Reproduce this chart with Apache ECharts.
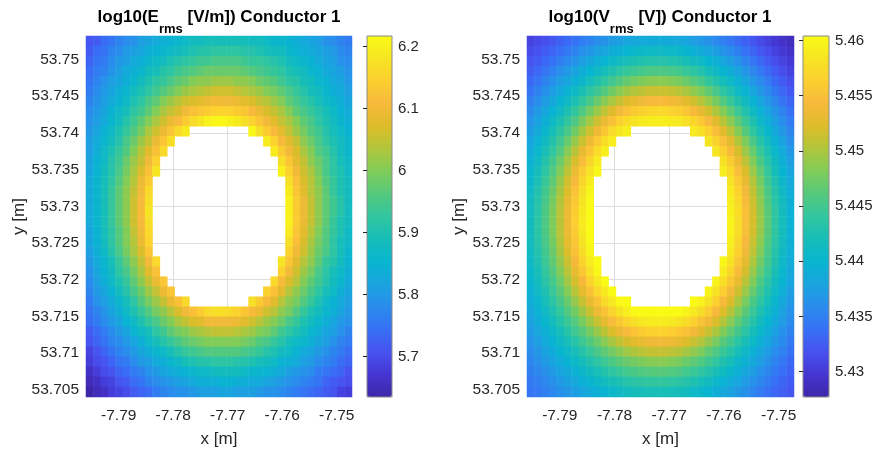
<!DOCTYPE html>
<html>
<head>
<meta charset="utf-8" />
<title>log10 Erms / Vrms - Conductor 1</title>
<script type="text/javascript" src="https://cdn.jsdelivr.net/npm/echarts@6/dist/echarts.min.js"></script>
<style type="text/css">
	html, body { margin: 0; padding: 0; background: #fff; }
	#main { width: 873px; height: 450px; }
</style>
</head>
<body>
<div id="main"></div>
<script type="text/javascript">
var _ = null; // inside the conductor zone, no value (left white)

// map extent [m]
var xExtent = [-7.7960, -7.7472];
var yExtent = [53.7040, 53.7532];

// cell centres of the sampled grid (x left->right, y bottom->top)
var xCells = [-7.7953, -7.7940, -7.7926, -7.7913, -7.7899, -7.7885, -7.7872, -7.7858, -7.7845, -7.7831, -7.7818, -7.7804,
	-7.7791, -7.7777, -7.7763, -7.7750, -7.7736, -7.7723, -7.7709, -7.7696, -7.7682, -7.7669, -7.7655, -7.7641,
	-7.7628, -7.7614, -7.7601, -7.7587, -7.7574, -7.7560, -7.7547, -7.7533, -7.7519, -7.7506, -7.7492, -7.7479];
var yCells = [53.7047, 53.7061, 53.7074, 53.7088, 53.7102, 53.7115, 53.7129, 53.7143, 53.7156, 53.7170, 53.7184, 53.7197,
	53.7211, 53.7225, 53.7238, 53.7252, 53.7266, 53.7279, 53.7293, 53.7307, 53.7320, 53.7334, 53.7348, 53.7361,
	53.7375, 53.7389, 53.7402, 53.7416, 53.7430, 53.7443, 53.7457, 53.7471, 53.7484, 53.7498, 53.7512, 53.7525];

// tick labels
var xTicks = [-7.79, -7.78, -7.77, -7.76, -7.75];
var yTicks = [53.705, 53.71, 53.715, 53.72, 53.725, 53.73, 53.735, 53.74, 53.745, 53.75];
var eTicks = [5.7, 5.8, 5.9, 6, 6.1, 6.2];
var vTicks = [5.43, 5.435, 5.44, 5.445, 5.45, 5.455, 5.46];

// colour limits of the two colorbars
var eRange = [5.635, 6.217];
var vRange = [5.4277, 5.4604];

// log10(Erms [V/m]), rows from top (north) to bottom
var eRows = [
	[5.71,5.72,5.74,5.75,5.77,5.78,5.79,5.81,5.82,5.83,5.84,5.85,5.86,5.87,5.88,5.88,5.89,5.89,5.89,5.89,5.89,5.89,5.88,5.88,5.87,5.86,5.86,5.85,5.84,5.83,5.82,5.81,5.79,5.78,5.77,5.76],
	[5.72,5.74,5.75,5.77,5.78,5.80,5.81,5.82,5.84,5.85,5.86,5.87,5.88,5.89,5.90,5.91,5.91,5.92,5.92,5.92,5.92,5.91,5.91,5.90,5.89,5.88,5.88,5.86,5.85,5.84,5.83,5.82,5.81,5.80,5.78,5.77],
	[5.73,5.75,5.76,5.78,5.80,5.81,5.83,5.84,5.86,5.87,5.88,5.90,5.91,5.92,5.93,5.94,5.94,5.95,5.95,5.95,5.95,5.94,5.93,5.93,5.92,5.91,5.90,5.88,5.87,5.86,5.85,5.83,5.82,5.81,5.79,5.78],
	[5.74,5.76,5.77,5.79,5.81,5.83,5.84,5.86,5.88,5.89,5.91,5.92,5.94,5.95,5.96,5.97,5.98,5.98,5.98,5.98,5.98,5.97,5.96,5.95,5.94,5.93,5.92,5.90,5.89,5.88,5.86,5.85,5.83,5.82,5.81,5.79],
	[5.75,5.77,5.79,5.81,5.82,5.84,5.86,5.88,5.90,5.92,5.93,5.95,5.97,5.98,6.00,6.01,6.01,6.02,6.02,6.02,6.01,6.01,6.00,5.98,5.97,5.96,5.94,5.92,5.91,5.89,5.88,5.86,5.85,5.83,5.82,5.80],
	[5.76,5.78,5.80,5.82,5.84,5.86,5.88,5.90,5.92,5.94,5.96,5.98,6.00,6.02,6.03,6.04,6.05,6.06,6.06,6.06,6.05,6.04,6.03,6.02,6.00,5.99,5.97,5.95,5.93,5.91,5.89,5.88,5.86,5.84,5.83,5.81],
	[5.77,5.79,5.81,5.83,5.85,5.87,5.90,5.92,5.95,5.97,6.00,6.02,6.04,6.06,6.07,6.08,6.09,6.10,6.10,6.10,6.09,6.08,6.07,6.05,6.04,6.02,6.00,5.97,5.95,5.93,5.91,5.89,5.87,5.86,5.84,5.82],
	[5.78,5.80,5.82,5.85,5.87,5.89,5.92,5.94,5.97,6.00,6.03,6.05,6.07,6.10,6.12,6.13,6.14,6.15,6.15,6.15,6.14,6.13,6.11,6.09,6.07,6.05,6.03,6.00,5.97,5.95,5.93,5.91,5.89,5.87,5.85,5.83],
	[5.79,5.81,5.83,5.86,5.88,5.91,5.94,5.97,6.00,6.03,6.06,6.09,6.11,6.14,6.16,6.18,6.20,6.21,6.21,6.20,6.19,6.17,6.15,6.13,6.10,6.08,6.05,6.03,6.00,5.97,5.95,5.92,5.90,5.88,5.86,5.84],
	[5.80,5.82,5.85,5.87,5.90,5.93,5.96,5.99,6.03,6.06,6.09,6.13,6.16,6.19,_,_,_,_,_,_,_,_,6.21,6.17,6.14,6.11,6.08,6.05,6.02,5.99,5.96,5.94,5.91,5.89,5.87,5.85],
	[5.81,5.83,5.86,5.88,5.91,5.95,5.98,6.02,6.05,6.09,6.13,6.17,_,_,_,_,_,_,_,_,_,_,_,_,6.19,6.15,6.11,6.08,6.05,6.01,5.98,5.95,5.92,5.90,5.88,5.86],
	[5.81,5.84,5.87,5.90,5.93,5.96,6.00,6.04,6.08,6.12,6.16,_,_,_,_,_,_,_,_,_,_,_,_,_,_,6.19,6.14,6.10,6.07,6.03,6.00,5.96,5.94,5.91,5.88,5.86],
	[5.82,5.85,5.87,5.91,5.94,5.98,6.02,6.05,6.10,6.15,_,_,_,_,_,_,_,_,_,_,_,_,_,_,_,_,6.17,6.13,6.08,6.05,6.01,5.98,5.95,5.92,5.89,5.87],
	[5.82,5.85,5.88,5.91,5.95,5.99,6.03,6.07,6.12,6.18,_,_,_,_,_,_,_,_,_,_,_,_,_,_,_,_,6.20,6.15,6.10,6.06,6.03,5.99,5.95,5.92,5.90,5.87],
	[5.83,5.86,5.89,5.92,5.96,6.00,6.04,6.09,6.14,_,_,_,_,_,_,_,_,_,_,_,_,_,_,_,_,_,_,6.17,6.12,6.07,6.04,6.00,5.96,5.93,5.90,5.88],
	[5.83,5.86,5.89,5.93,5.97,6.01,6.05,6.10,6.16,_,_,_,_,_,_,_,_,_,_,_,_,_,_,_,_,_,_,6.19,6.13,6.08,6.04,6.01,5.97,5.93,5.90,5.88],
	[5.83,5.86,5.89,5.93,5.97,6.01,6.06,6.11,6.17,_,_,_,_,_,_,_,_,_,_,_,_,_,_,_,_,_,_,6.20,6.14,6.09,6.05,6.01,5.97,5.94,5.91,5.88],
	[5.83,5.86,5.89,5.93,5.97,6.01,6.06,6.11,6.18,_,_,_,_,_,_,_,_,_,_,_,_,_,_,_,_,_,_,6.20,6.14,6.09,6.05,6.01,5.97,5.94,5.91,5.88],
	[5.83,5.86,5.89,5.93,5.97,6.01,6.06,6.11,6.17,_,_,_,_,_,_,_,_,_,_,_,_,_,_,_,_,_,_,6.20,6.14,6.09,6.05,6.01,5.97,5.93,5.90,5.88],
	[5.82,5.85,5.89,5.92,5.96,6.00,6.05,6.10,6.16,_,_,_,_,_,_,_,_,_,_,_,_,_,_,_,_,_,_,6.19,6.13,6.08,6.04,6.00,5.96,5.93,5.90,5.87],
	[5.82,5.85,5.88,5.92,5.96,6.00,6.04,6.09,6.15,_,_,_,_,_,_,_,_,_,_,_,_,_,_,_,_,_,_,6.17,6.12,6.07,6.03,5.99,5.96,5.92,5.89,5.87],
	[5.81,5.84,5.87,5.91,5.95,5.99,6.03,6.07,6.13,_,_,_,_,_,_,_,_,_,_,_,_,_,_,_,_,_,_,6.15,6.10,6.06,6.02,5.98,5.95,5.92,5.89,5.86],
	[5.80,5.83,5.86,5.89,5.93,5.97,6.01,6.05,6.10,6.16,_,_,_,_,_,_,_,_,_,_,_,_,_,_,_,_,6.18,6.13,6.08,6.04,6.01,5.97,5.93,5.91,5.88,5.85],
	[5.79,5.82,5.85,5.88,5.92,5.95,5.99,6.03,6.08,6.12,_,_,_,_,_,_,_,_,_,_,_,_,_,_,_,_,6.15,6.10,6.06,6.02,5.99,5.95,5.92,5.89,5.87,5.84],
	[5.78,5.81,5.84,5.87,5.90,5.93,5.97,6.01,6.05,6.09,6.13,_,_,_,_,_,_,_,_,_,_,_,_,_,_,6.16,6.11,6.07,6.04,6.00,5.97,5.94,5.91,5.88,5.86,5.83],
	[5.77,5.80,5.82,5.85,5.88,5.91,5.95,5.98,6.02,6.05,6.09,6.13,_,_,_,_,_,_,_,_,_,_,_,_,6.15,6.12,6.08,6.04,6.01,5.98,5.95,5.92,5.89,5.87,5.84,5.82],
	[5.76,5.79,5.81,5.83,5.86,5.89,5.92,5.96,5.99,6.02,6.05,6.09,6.12,6.16,_,_,_,_,_,_,_,_,6.17,6.14,6.11,6.08,6.04,6.01,5.99,5.96,5.93,5.90,5.87,5.85,5.83,5.81],
	[5.75,5.77,5.79,5.82,5.84,5.87,5.90,5.93,5.96,5.99,6.01,6.04,6.07,6.10,6.12,6.14,6.16,6.17,6.17,6.16,6.15,6.13,6.11,6.09,6.06,6.04,6.01,5.99,5.96,5.93,5.90,5.88,5.86,5.84,5.82,5.80],
	[5.74,5.76,5.78,5.80,5.82,5.85,5.87,5.90,5.93,5.95,5.98,6.00,6.03,6.05,6.07,6.08,6.10,6.10,6.10,6.10,6.09,6.08,6.06,6.04,6.02,6.00,5.98,5.95,5.93,5.90,5.88,5.86,5.84,5.82,5.80,5.79],
	[5.72,5.74,5.76,5.78,5.80,5.82,5.85,5.87,5.89,5.92,5.94,5.97,5.99,6.00,6.02,6.03,6.04,6.05,6.05,6.05,6.04,6.03,6.02,6.00,5.99,5.97,5.94,5.92,5.90,5.88,5.86,5.84,5.82,5.81,5.79,5.77],
	[5.71,5.73,5.75,5.77,5.78,5.80,5.82,5.84,5.87,5.89,5.91,5.93,5.95,5.97,5.98,5.99,6.00,6.00,6.00,6.00,6.00,5.99,5.98,5.96,5.95,5.93,5.91,5.89,5.87,5.86,5.84,5.82,5.81,5.79,5.77,5.76],
	[5.69,5.71,5.73,5.75,5.77,5.78,5.80,5.82,5.84,5.86,5.87,5.89,5.91,5.93,5.94,5.95,5.96,5.96,5.96,5.96,5.96,5.95,5.94,5.93,5.91,5.90,5.88,5.87,5.85,5.83,5.82,5.80,5.79,5.77,5.76,5.74],
	[5.68,5.70,5.71,5.73,5.75,5.76,5.78,5.80,5.81,5.83,5.84,5.86,5.87,5.89,5.90,5.91,5.91,5.92,5.92,5.92,5.91,5.91,5.90,5.89,5.88,5.87,5.85,5.84,5.83,5.81,5.80,5.78,5.77,5.76,5.74,5.73],
	[5.66,5.68,5.70,5.71,5.73,5.74,5.76,5.77,5.79,5.80,5.82,5.83,5.84,5.85,5.86,5.87,5.87,5.88,5.88,5.88,5.88,5.87,5.86,5.86,5.85,5.84,5.83,5.81,5.80,5.79,5.78,5.76,5.75,5.74,5.73,5.71],
	[5.65,5.66,5.68,5.69,5.71,5.72,5.74,5.75,5.77,5.78,5.79,5.80,5.81,5.82,5.83,5.84,5.84,5.84,5.85,5.85,5.84,5.84,5.83,5.83,5.82,5.81,5.80,5.79,5.78,5.77,5.76,5.75,5.73,5.72,5.71,5.70],
	[5.63,5.65,5.66,5.68,5.69,5.70,5.72,5.73,5.74,5.76,5.77,5.78,5.79,5.79,5.80,5.81,5.81,5.81,5.82,5.82,5.81,5.81,5.81,5.80,5.79,5.79,5.78,5.77,5.76,5.75,5.74,5.73,5.72,5.71,5.69,5.68]
];

// log10(Vrms [V]), rows from top (north) to bottom
var vRows = [
	[5.4307,5.4311,5.4316,5.4321,5.4328,5.4334,5.4340,5.4347,5.4353,5.4360,5.4365,5.4372,5.4376,5.4381,5.4384,5.4386,5.4388,5.4388,5.4388,5.4386,5.4384,5.4380,5.4375,5.4370,5.4364,5.4357,5.4350,5.4343,5.4335,5.4328,5.4320,5.4312,5.4305,5.4298,5.4293,5.4287],
	[5.4313,5.4317,5.4324,5.4330,5.4338,5.4345,5.4352,5.4361,5.4367,5.4375,5.4382,5.4389,5.4394,5.4400,5.4404,5.4407,5.4409,5.4409,5.4409,5.4407,5.4405,5.4400,5.4394,5.4388,5.4381,5.4374,5.4365,5.4357,5.4349,5.4340,5.4331,5.4322,5.4314,5.4306,5.4299,5.4293],
	[5.4319,5.4325,5.4333,5.4340,5.4349,5.4357,5.4365,5.4375,5.4383,5.4392,5.4400,5.4408,5.4415,5.4421,5.4425,5.4429,5.4431,5.4432,5.4432,5.4429,5.4427,5.4421,5.4415,5.4409,5.4400,5.4392,5.4382,5.4373,5.4363,5.4353,5.4343,5.4333,5.4324,5.4315,5.4307,5.4299],
	[5.4326,5.4333,5.4342,5.4351,5.4361,5.4370,5.4379,5.4390,5.4400,5.4410,5.4419,5.4428,5.4436,5.4443,5.4448,5.4452,5.4456,5.4457,5.4457,5.4454,5.4450,5.4444,5.4437,5.4430,5.4420,5.4411,5.4400,5.4390,5.4378,5.4367,5.4356,5.4345,5.4335,5.4324,5.4315,5.4306],
	[5.4334,5.4342,5.4352,5.4362,5.4373,5.4383,5.4394,5.4406,5.4417,5.4429,5.4439,5.4449,5.4459,5.4468,5.4475,5.4480,5.4484,5.4485,5.4485,5.4482,5.4478,5.4471,5.4462,5.4453,5.4441,5.4431,5.4419,5.4407,5.4394,5.4382,5.4369,5.4357,5.4346,5.4334,5.4324,5.4314],
	[5.4342,5.4351,5.4362,5.4373,5.4385,5.4397,5.4409,5.4423,5.4436,5.4448,5.4461,5.4474,5.4485,5.4495,5.4503,5.4508,5.4513,5.4514,5.4514,5.4511,5.4506,5.4499,5.4489,5.4479,5.4466,5.4453,5.4438,5.4426,5.4411,5.4397,5.4383,5.4369,5.4357,5.4344,5.4333,5.4322],
	[5.4350,5.4360,5.4372,5.4384,5.4398,5.4411,5.4425,5.4440,5.4454,5.4470,5.4485,5.4499,5.4511,5.4523,5.4531,5.4537,5.4542,5.4544,5.4544,5.4540,5.4535,5.4527,5.4517,5.4505,5.4491,5.4477,5.4460,5.4444,5.4428,5.4413,5.4397,5.4382,5.4368,5.4354,5.4342,5.4330],
	[5.4358,5.4370,5.4383,5.4396,5.4411,5.4426,5.4441,5.4458,5.4475,5.4493,5.4509,5.4525,5.4538,5.4550,5.4559,5.4565,5.4569,5.4571,5.4571,5.4567,5.4563,5.4555,5.4544,5.4532,5.4517,5.4501,5.4483,5.4465,5.4446,5.4429,5.4412,5.4395,5.4380,5.4365,5.4352,5.4338],
	[5.4366,5.4378,5.4393,5.4408,5.4424,5.4441,5.4457,5.4477,5.4496,5.4515,5.4533,5.4550,5.4564,5.4575,5.4583,5.4588,5.4591,5.4592,5.4592,5.4589,5.4586,5.4579,5.4569,5.4558,5.4542,5.4525,5.4505,5.4486,5.4465,5.4445,5.4427,5.4408,5.4392,5.4375,5.4360,5.4346],
	[5.4374,5.4387,5.4403,5.4419,5.4437,5.4454,5.4474,5.4496,5.4516,5.4537,5.4556,5.4572,5.4585,5.4594,_,_,_,_,_,_,_,_,5.4588,5.4579,5.4564,5.4548,5.4527,5.4506,5.4484,5.4462,5.4440,5.4421,5.4403,5.4385,5.4369,5.4354],
	[5.4381,5.4396,5.4413,5.4430,5.4449,5.4469,5.4491,5.4514,5.4536,5.4558,5.4575,5.4591,_,_,_,_,_,_,_,_,_,_,_,_,5.4583,5.4567,5.4548,5.4526,5.4502,5.4479,5.4455,5.4433,5.4414,5.4395,5.4378,5.4361],
	[5.4389,5.4404,5.4422,5.4440,5.4460,5.4483,5.4506,5.4531,5.4554,5.4575,5.4592,_,_,_,_,_,_,_,_,_,_,_,_,_,_,5.4584,5.4565,5.4544,5.4519,5.4494,5.4469,5.4444,5.4424,5.4404,5.4386,5.4369],
	[5.4395,5.4411,5.4431,5.4450,5.4472,5.4496,5.4520,5.4546,5.4570,5.4590,_,_,_,_,_,_,_,_,_,_,_,_,_,_,_,_,5.4580,5.4560,5.4534,5.4508,5.4482,5.4456,5.4434,5.4413,5.4393,5.4375],
	[5.4401,5.4418,5.4438,5.4458,5.4482,5.4507,5.4533,5.4559,5.4582,5.4600,_,_,_,_,_,_,_,_,_,_,_,_,_,_,_,_,5.4590,5.4572,5.4547,5.4521,5.4493,5.4466,5.4442,5.4420,5.4400,5.4381],
	[5.4406,5.4424,5.4444,5.4465,5.4491,5.4517,5.4543,5.4570,5.4592,_,_,_,_,_,_,_,_,_,_,_,_,_,_,_,_,_,_,5.4582,5.4558,5.4531,5.4503,5.4475,5.4449,5.4426,5.4406,5.4386],
	[5.4410,5.4429,5.4450,5.4471,5.4498,5.4524,5.4551,5.4578,5.4599,_,_,_,_,_,_,_,_,_,_,_,_,_,_,_,_,_,_,5.4589,5.4566,5.4539,5.4510,5.4482,5.4455,5.4432,5.4411,5.4390],
	[5.4413,5.4432,5.4453,5.4476,5.4503,5.4530,5.4557,5.4583,5.4603,_,_,_,_,_,_,_,_,_,_,_,_,_,_,_,_,_,_,5.4593,5.4571,5.4545,5.4516,5.4487,5.4460,5.4435,5.4414,5.4393],
	[5.4415,5.4434,5.4456,5.4479,5.4506,5.4533,5.4561,5.4587,5.4606,_,_,_,_,_,_,_,_,_,_,_,_,_,_,_,_,_,_,5.4596,5.4575,5.4549,5.4519,5.4490,5.4463,5.4438,5.4416,5.4395],
	[5.4416,5.4435,5.4457,5.4480,5.4507,5.4534,5.4562,5.4588,5.4607,_,_,_,_,_,_,_,_,_,_,_,_,_,_,_,_,_,_,5.4597,5.4576,5.4550,5.4520,5.4491,5.4464,5.4439,5.4417,5.4396],
	[5.4416,5.4435,5.4456,5.4479,5.4506,5.4533,5.4560,5.4586,5.4606,_,_,_,_,_,_,_,_,_,_,_,_,_,_,_,_,_,_,5.4596,5.4574,5.4548,5.4519,5.4490,5.4463,5.4438,5.4417,5.4396],
	[5.4414,5.4433,5.4454,5.4475,5.4502,5.4528,5.4555,5.4582,5.4603,_,_,_,_,_,_,_,_,_,_,_,_,_,_,_,_,_,_,5.4593,5.4570,5.4543,5.4514,5.4486,5.4459,5.4436,5.4415,5.4394],
	[5.4412,5.4430,5.4450,5.4471,5.4497,5.4523,5.4549,5.4576,5.4598,_,_,_,_,_,_,_,_,_,_,_,_,_,_,_,_,_,_,5.4588,5.4564,5.4537,5.4509,5.4481,5.4455,5.4432,5.4412,5.4392],
	[5.4409,5.4426,5.4446,5.4466,5.4490,5.4515,5.4541,5.4567,5.4590,5.4608,_,_,_,_,_,_,_,_,_,_,_,_,_,_,_,_,5.4598,5.4580,5.4555,5.4529,5.4501,5.4474,5.4450,5.4428,5.4408,5.4389],
	[5.4405,5.4421,5.4441,5.4460,5.4482,5.4506,5.4530,5.4556,5.4580,5.4600,_,_,_,_,_,_,_,_,_,_,_,_,_,_,_,_,5.4590,5.4570,5.4544,5.4518,5.4492,5.4466,5.4444,5.4423,5.4403,5.4385],
	[5.4401,5.4416,5.4434,5.4452,5.4472,5.4495,5.4518,5.4543,5.4566,5.4587,5.4604,_,_,_,_,_,_,_,_,_,_,_,_,_,_,5.4596,5.4577,5.4556,5.4531,5.4506,5.4481,5.4456,5.4436,5.4416,5.4398,5.4381],
	[5.4395,5.4410,5.4427,5.4444,5.4463,5.4483,5.4505,5.4528,5.4550,5.4572,5.4589,5.4605,_,_,_,_,_,_,_,_,_,_,_,_,5.4597,5.4581,5.4562,5.4540,5.4516,5.4493,5.4469,5.4447,5.4428,5.4409,5.4392,5.4375],
	[5.4390,5.4403,5.4419,5.4435,5.4453,5.4470,5.4490,5.4512,5.4532,5.4553,5.4572,5.4588,5.4601,5.4610,_,_,_,_,_,_,_,_,5.4604,5.4595,5.4580,5.4564,5.4543,5.4522,5.4500,5.4478,5.4456,5.4437,5.4419,5.4401,5.4385,5.4370],
	[5.4384,5.4396,5.4411,5.4426,5.4442,5.4459,5.4475,5.4495,5.4514,5.4533,5.4551,5.4568,5.4582,5.4593,5.4601,5.4606,5.4609,5.4610,5.4610,5.4607,5.4604,5.4597,5.4587,5.4576,5.4560,5.4543,5.4523,5.4504,5.4483,5.4463,5.4445,5.4426,5.4410,5.4393,5.4378,5.4364],
	[5.4378,5.4390,5.4403,5.4416,5.4431,5.4446,5.4461,5.4478,5.4495,5.4513,5.4529,5.4545,5.4558,5.4570,5.4579,5.4585,5.4589,5.4591,5.4591,5.4587,5.4583,5.4575,5.4564,5.4552,5.4537,5.4521,5.4503,5.4485,5.4466,5.4449,5.4432,5.4415,5.4400,5.4385,5.4372,5.4358],
	[5.4372,5.4382,5.4394,5.4406,5.4420,5.4433,5.4447,5.4462,5.4476,5.4492,5.4507,5.4521,5.4533,5.4545,5.4553,5.4559,5.4564,5.4566,5.4566,5.4562,5.4557,5.4549,5.4539,5.4527,5.4513,5.4499,5.4482,5.4466,5.4450,5.4435,5.4419,5.4404,5.4390,5.4376,5.4364,5.4352],
	[5.4366,5.4375,5.4386,5.4397,5.4409,5.4421,5.4433,5.4447,5.4460,5.4472,5.4485,5.4498,5.4509,5.4519,5.4527,5.4532,5.4537,5.4538,5.4538,5.4535,5.4530,5.4523,5.4513,5.4503,5.4490,5.4477,5.4462,5.4450,5.4435,5.4421,5.4407,5.4393,5.4381,5.4368,5.4357,5.4346],
	[5.4360,5.4368,5.4378,5.4388,5.4399,5.4409,5.4420,5.4432,5.4443,5.4455,5.4465,5.4475,5.4485,5.4494,5.4501,5.4506,5.4510,5.4511,5.4511,5.4508,5.4504,5.4497,5.4488,5.4479,5.4467,5.4457,5.4445,5.4433,5.4420,5.4408,5.4395,5.4383,5.4372,5.4360,5.4350,5.4340],
	[5.4354,5.4361,5.4370,5.4379,5.4389,5.4398,5.4407,5.4418,5.4428,5.4438,5.4447,5.4456,5.4464,5.4471,5.4476,5.4480,5.4484,5.4485,5.4485,5.4482,5.4478,5.4472,5.4465,5.4458,5.4448,5.4439,5.4428,5.4418,5.4406,5.4395,5.4384,5.4373,5.4363,5.4352,5.4343,5.4334],
	[5.4349,5.4355,5.4363,5.4370,5.4379,5.4387,5.4395,5.4405,5.4413,5.4422,5.4430,5.4438,5.4445,5.4451,5.4455,5.4459,5.4461,5.4462,5.4462,5.4459,5.4457,5.4451,5.4445,5.4439,5.4430,5.4422,5.4412,5.4403,5.4393,5.4383,5.4373,5.4363,5.4354,5.4345,5.4337,5.4329],
	[5.4345,5.4349,5.4356,5.4362,5.4370,5.4377,5.4384,5.4393,5.4399,5.4407,5.4414,5.4421,5.4426,5.4432,5.4436,5.4439,5.4441,5.4441,5.4441,5.4439,5.4437,5.4432,5.4426,5.4420,5.4413,5.4406,5.4397,5.4389,5.4381,5.4372,5.4363,5.4354,5.4346,5.4338,5.4331,5.4325],
	[5.4341,5.4345,5.4350,5.4355,5.4362,5.4368,5.4374,5.4381,5.4387,5.4394,5.4399,5.4406,5.4410,5.4415,5.4418,5.4420,5.4422,5.4422,5.4422,5.4420,5.4418,5.4414,5.4409,5.4404,5.4398,5.4391,5.4384,5.4377,5.4369,5.4362,5.4354,5.4346,5.4339,5.4332,5.4327,5.4321]
];

// parula-like colormap
var parula = ['#3e26a8', '#4536d2', '#4752f0', '#3770f6', '#2a8cec', '#1aa4df', '#08b5d0', '#17bdb8', '#31c69f',
	'#55c97d', '#80cc59', '#b0c63c', '#dcbd29', '#f7b93c', '#fccf30', '#f6e523', '#f9fb15'];

var ff = '"Liberation Sans", Arial, Helvetica, sans-serif';
var txt = '#262626';
var gridCol = '#dedede';

// rows (top->bottom) to heatmap items [xIndex, yIndex, value]
function toCells(rows) {
	var out = [];
	for (var r = 0; r < rows.length; r++) {
		for (var c = 0; c < rows[r].length; c++) {
			if (rows[r][c] !== null) out.push([c, rows.length - 1 - r, rows[r][c]]);
		}
	}
	return out;
}

function plain(v) { return String(v); }

function mapXAxes(g) {
	return [{
		type: 'category', gridIndex: g, data: xCells, show: false, position: 'top'
	}, {
		type: 'value', gridIndex: g, position: 'bottom', min: xExtent[0], max: xExtent[1],
		name: 'x [m]', nameLocation: 'middle', nameGap: 34,
		nameTextStyle: { fontSize: 17, color: txt, fontFamily: ff },
		axisLine: { show: false },
		axisTick: { show: false, customValues: xTicks },
		axisLabel: { customValues: xTicks, formatter: plain, fontSize: 15.5, color: txt, margin: 11, fontFamily: ff },
		// the -7.76 grid line does not show in the original
		splitLine: { show: true, lineStyle: { color: [gridCol, gridCol, gridCol, 'rgba(0,0,0,0)', gridCol], width: 1 } }
	}];
}

function mapYAxes(g, gap) {
	return [{
		type: 'category', gridIndex: g, data: yCells, show: false, position: 'right'
	}, {
		type: 'value', gridIndex: g, position: 'left', min: yExtent[0], max: yExtent[1],
		name: 'y [m]', nameLocation: 'middle', nameGap: gap,
		nameTextStyle: { fontSize: 17, color: txt, fontFamily: ff },
		axisLine: { show: false },
		axisTick: { show: false, customValues: yTicks },
		axisLabel: { customValues: yTicks, formatter: plain, fontSize: 15.5, color: txt, margin: 7, fontFamily: ff },
		splitLine: { show: true, lineStyle: { color: gridCol, width: 1 } }
	}];
}

function barYAxis(g, range, ticks) {
	return {
		type: 'value', gridIndex: g, position: 'right', min: range[0], max: range[1], z: 10,
		axisLine: { show: false },
		axisTick: { show: true, inside: true, length: 4, customValues: ticks, lineStyle: { color: txt } },
		axisLabel: { customValues: ticks, formatter: plain, fontSize: 15, color: txt, margin: 6, fontFamily: ff },
		splitLine: { show: false }
	};
}

function titleText(x, txtRich) {
	return {
		type: 'text', x: x, y: 9, z: 100,
		style: {
			text: txtRich, align: 'center', verticalAlign: 'top', fill: '#000',
			rich: {
				m: { fontSize: 17, fontWeight: 'bold', fontFamily: ff, lineHeight: 20, verticalAlign: 'top', fill: '#000' },
				s: { fontSize: 13, fontWeight: 'bold', fontFamily: ff, lineHeight: 14, padding: [14, 0, 0, 0], verticalAlign: 'top', fill: '#000' }
			}
		}
	};
}

var myChart = echarts.init(document.getElementById('main'), null, { renderer: 'canvas' });

var option = {
	animation: false,
	backgroundColor: '#fff',
	textStyle: { fontFamily: ff },
	grid: [
		{ left: 86, top: 36, width: 266, height: 361, outerBoundsMode: 'none' },
		{ left: 527, top: 36, width: 267, height: 361, outerBoundsMode: 'none' },
		{ left: 367, top: 36, width: 25, height: 361, show: true, borderColor: '#8a8a8a', borderWidth: 1, backgroundColor: 'transparent', z: 10, outerBoundsMode: 'none' },
		{ left: 803, top: 36, width: 26, height: 361, show: true, borderColor: '#8a8a8a', borderWidth: 1, backgroundColor: 'transparent', z: 10, outerBoundsMode: 'none' }
	],
	xAxis: mapXAxes(0).concat(mapXAxes(1)).concat([
		{ type: 'value', gridIndex: 2, show: false, min: 0, max: 1 },
		{ type: 'value', gridIndex: 3, show: false, min: 0, max: 1 }
	]),
	yAxis: mapYAxes(0, 55).concat(mapYAxes(1, 59)).concat([
		barYAxis(2, eRange, eTicks),
		barYAxis(3, vRange, vTicks)
	]),
	visualMap: [{
		type: 'continuous', seriesIndex: 0, min: eRange[0], max: eRange[1],
		calculable: false, hoverLink: false, orient: 'vertical',
		left: 367, top: 36, itemWidth: 25, itemHeight: 361, padding: 0,
		inRange: { color: parula }
	}, {
		type: 'continuous', seriesIndex: 1, min: vRange[0], max: vRange[1],
		calculable: false, hoverLink: false, orient: 'vertical',
		left: 803, top: 36, itemWidth: 26, itemHeight: 361, padding: 0,
		inRange: { color: parula }
	}],
	graphic: [
		titleText(219, '{m|log10(E}{s|rms}{m| [V/m]) Conductor 1}'),
		titleText(660, '{m|log10(V}{s|rms}{m| [V]) Conductor 1}')
	],
	series: [{
		name: 'log10(Erms)', type: 'heatmap', xAxisIndex: 0, yAxisIndex: 0,
		data: toCells(eRows), progressive: 0, emphasis: { disabled: true }
	}, {
		name: 'log10(Vrms)', type: 'heatmap', xAxisIndex: 2, yAxisIndex: 2,
		data: toCells(vRows), progressive: 0, emphasis: { disabled: true }
	}]
};

myChart.setOption(option);
</script>
</body>
</html>
